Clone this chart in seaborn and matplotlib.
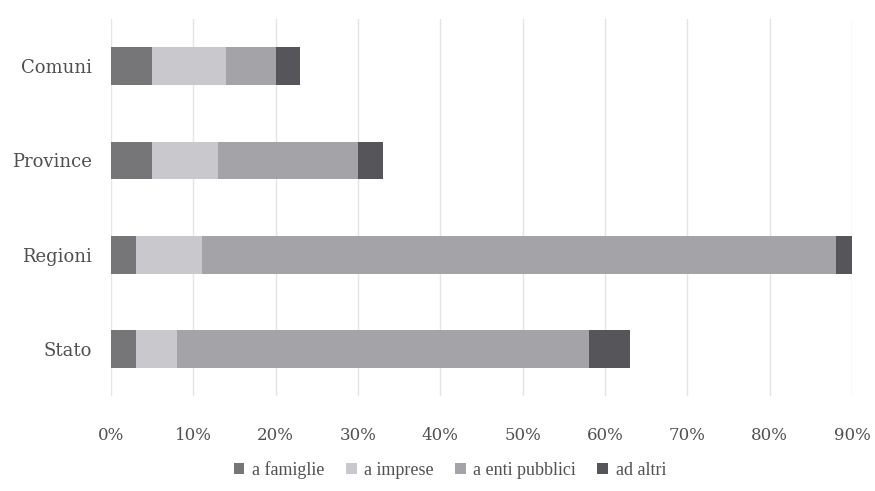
import matplotlib
matplotlib.use("Agg")
import matplotlib.pyplot as plt
import seaborn as sns
import numpy as np
from matplotlib.patches import Patch

categorie = ['Comuni', 'Province', 'Regioni', 'Stato']
serie = ['a famiglie', 'a imprese', 'a enti pubblici', 'ad altri']
famiglie = [5, 5, 3, 3]
imprese = [9, 8, 8, 5]
enti_pubblici = [6, 17, 77, 50]
altri = [3, 3, 2, 5]
colori = ['#767678', '#c9c9cd', '#a4a4a8', '#56565a']

sns.set_style("white")
plt.rcParams['font.family'] = ['Liberation Serif', 'DejaVu Serif']

valori = np.array([famiglie, imprese, enti_pubblici, altri])
cumulati = np.cumsum(valori, axis=0)

fig = plt.figure(figsize=(8.75, 4.91), dpi=100)
ax = fig.add_axes([0.1269, 0.1935, 0.8468, 0.7675])

# stacked bars: draw the totals first, then overlay the shorter partial sums
for i in range(len(serie) - 1, -1, -1):
    sns.barplot(x=cumulati[i], y=categorie, orient='h', color=colori[i],
                width=0.4, saturation=1, ax=ax, zorder=2, linewidth=0)

ax.set_xlim(0, 90)
ax.set_ylim(3.5, -0.5)
ax.set_xticks(range(0, 91, 10))
ax.set_xticklabels([f'{t}%' for t in range(0, 91, 10)])
ax.grid(axis='x', color='#e4e4e4', linewidth=1, zorder=0)
ax.set_axisbelow(True)
sns.despine(ax=ax, left=True, bottom=True)
ax.set_xlabel('')
ax.set_ylabel('')
ax.tick_params(axis='both', length=0, labelcolor='#505050')
ax.tick_params(axis='x', pad=22)
ax.tick_params(axis='y', pad=14)
for lab in ax.get_yticklabels():
    lab.set_fontfamily('DejaVu Serif')
    lab.set_fontsize(13)
for lab in ax.get_xticklabels():
    lab.set_fontfamily('DejaVu Serif')
    lab.set_fontsize(12)

handles = [Patch(facecolor=c, edgecolor='none') for c in colori]
fig.legend(handles, serie, loc='center', bbox_to_anchor=(0.514, 0.043), ncol=4,
           frameon=False, fontsize=13, labelcolor='#505050', handlelength=0.6,
           handleheight=0.6, handletextpad=0.4, columnspacing=1.2)

fig.savefig('out.png', dpi=100)
